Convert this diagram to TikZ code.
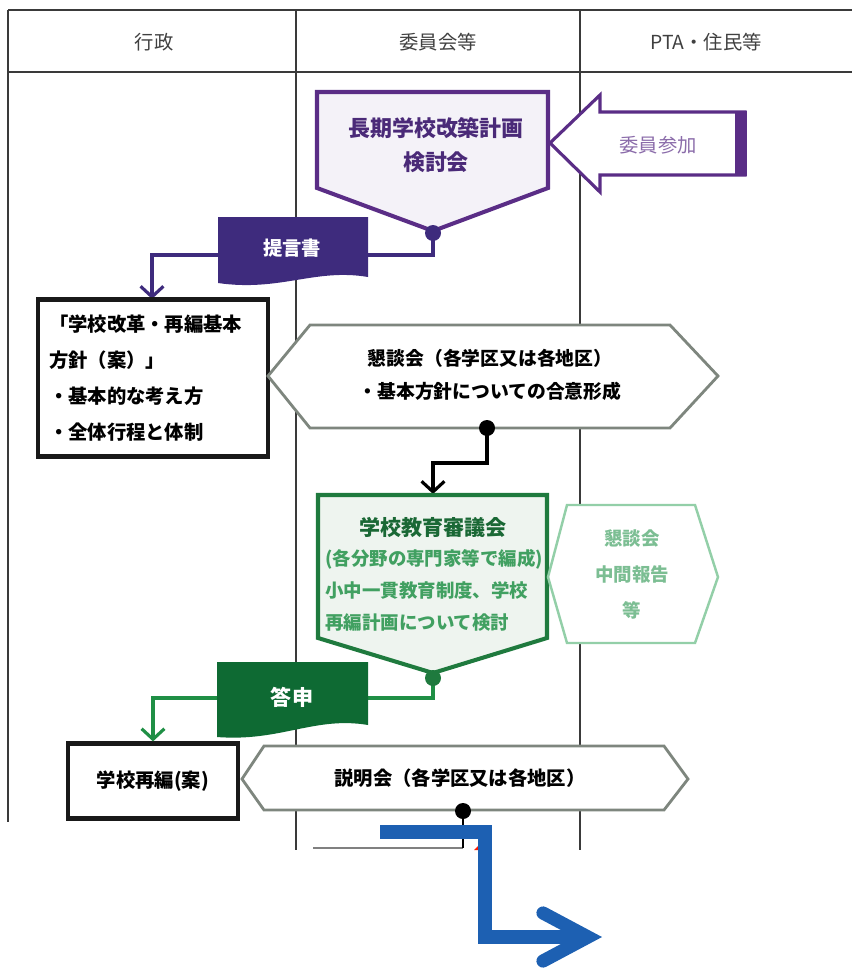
\documentclass[tikz,border=0pt]{standalone}
\usepackage{fontspec}
\setmainfont{Noto Sans CJK JP}
\usepackage{tikz}
\usetikzlibrary{arrows.meta}

\definecolor{lanegray}{HTML}{3A3A3A}
\definecolor{purp}{HTML}{5A2D86}
\definecolor{purpdark}{HTML}{3E2B7D}
\definecolor{purptext}{HTML}{4A2A78}
\definecolor{purplight}{HTML}{F4F2F8}
\definecolor{grn}{HTML}{1F7A3E}
\definecolor{grndark}{HTML}{0E6A33}
\definecolor{grnline}{HTML}{1F8F45}
\definecolor{grnlight}{HTML}{EEF4EF}
\definecolor{grnpale}{HTML}{93CFA8}
\definecolor{hexgray}{HTML}{7E867E}
\definecolor{blu}{HTML}{1D60B2}

\begin{document}
\begin{tikzpicture}[x=0.02cm, y=-0.02cm, >={Straight Barb[length=6pt,width=13pt]},
  lane/.style={draw=lanegray, line width=1.1pt},
  head/.style={text=black!75, font=\fontsize{11}{13}\selectfont},
  ppent/.style={draw=purp, fill=purplight, line width=2.3pt, line join=miter},
  pline/.style={draw=purpdark, line width=1.8pt},
  kbox/.style={draw=black!90, fill=white, line width=2.4pt, inner sep=0pt},
  hexa/.style={draw=hexgray, fill=white, line width=1.6pt},
  btext/.style={font=\bfseries\fontsize{10.7}{19}\selectfont},
  gpent/.style={draw=grn, fill=grnlight, line width=2.3pt, line join=miter},
  gline/.style={draw=grnline, line width=1.8pt},
  lhexa/.style={draw=grnpale, fill=white, line width=1.4pt},
  barrow/.style={draw=blu, line width=7.5pt}]
\useasboundingbox (0,0) rectangle (852,970);

\draw [lane] (8,10) -- (852,10);
\draw [lane] (8,72) -- (852,72);
\draw [lane] (8,10) -- (8,822);
\draw [lane] (296,10) -- (296,850);
\draw [lane] (580,10) -- (580,850);
\node (gyousei) at (154,42) [head] {行政};
\node (iinkai) at (438,42) [head] {委員会等};
\node (pta) at (706,42) [head] {PTA・住民等};

\draw [draw=purp, fill=white, line width=1.8pt, line join=miter]
  (550,143) -- (600,95) -- (600,112) -- (745,112) -- (745,175) -- (600,175) -- (600,192) -- cycle;
\fill [purp] (735,111) rectangle (747,176);
\node (sanka) at (658,145) [text=purp!70, font=\fontsize{11}{13}\selectfont] {委員参加};

\draw [ppent] (317,92) -- (548,92) -- (548,188) -- (433,231) -- (317,188) -- cycle;
\node (kentou) at (436,145) [align=center, text=purptext, font=\bfseries\fontsize{12.5}{19.5}\selectfont] {長期学校改築計画\\検討会};
\coordinate (kdot) at (433,233);
\coordinate (teigenline) at (292,255);
\draw [pline, ->] (kdot) |- (teigenline) -| (152,299);
\fill [purpdark] (kdot) circle [radius=8];
\fill [purpdark] (218,217) -- (368,217) -- (368,277) .. controls (315,268) and (280,292) .. (218,283) -- cycle;
\node (teigen) at (292,248) [text=white, font=\bfseries\fontsize{11}{13}\selectfont] {提言書};

\node (kihon) at (153,378) [kbox, minimum width=4.6cm, minimum height=3.14cm, text width=4.16cm, align=left, btext, font=\bfseries\fontsize{11}{20.5}\selectfont]
  {「学校改革・再編基本\\方針（案）」\\・基本的な考え方\\・全体行程と体制};

\draw [hexa] (268,376) -- (310,325) -- (670,325) -- (718,376) -- (670,428) -- (310,428) -- cycle;
\node (kondan) at (490,375) [align=center, btext] {懇談会（各学区又は各地区）\\・基本方針についての合意形成};
\coordinate (sdot) at (487,428);
\coordinate (sbend) at (433,463);
\coordinate (gtop) at (433,494);
\draw [line width=1.8pt, ->] (sdot) |- (sbend) -- (gtop);
\fill (sdot) circle [radius=8];

\draw [gpent] (318,495) -- (547,495) -- (547,638) -- (433,673) -- (318,638) -- cycle;
\node (shingi) at (433,527) [text=grn!85!black, font=\bfseries\fontsize{12}{14}\selectfont] {学校教育審議会};
\node (shingibody) at (325,590) [anchor=west, align=left, inner sep=0pt, text=grnline!85!white, font=\bfseries\fontsize{10.5}{18.2}\selectfont]
  {(各分野の専門家等で編成)\\小中一貫教育制度、学校\\再編計画について検討};

\draw [lhexa] (548,577) -- (567,505) -- (695,505) -- (718,577) -- (695,643) -- (567,643) -- cycle;
\node (chukan) at (632,574) [align=center, text=grnpale!80!grn, font=\bfseries\fontsize{10.5}{20.5}\selectfont] {懇談会\\中間報告\\等};

\coordinate (gdot) at (433,678);
\coordinate (toushinline) at (292,698);
\node (saihen) at (153,781) [kbox, minimum width=3.4cm, minimum height=1.5cm, font=\bfseries\fontsize{11}{13}\selectfont] {学校再編(案)};
\draw [gline, ->] (gdot) |- (toushinline) -| (saihen.north);
\fill [grn] (gdot) circle [radius=8];
\fill [grndark] (217,662) -- (368,662) -- (368,725) .. controls (315,716) and (280,742) .. (217,737) -- cycle;
\node (toushin) at (292,697) [text=white, font=\bfseries\fontsize{12}{14}\selectfont] {答申};

\draw [hexa] (242,779) -- (264,746) -- (664,746) -- (688,779) -- (664,810) -- (264,810) -- cycle;
\node (setsumei) at (460,778) [font=\bfseries\fontsize{11}{13}\selectfont] {説明会（各学区又は各地区）};
\coordinate (mdot) at (463,811);
\coordinate (mend) at (463,848);
\draw [draw=gray, line width=1.1pt] (313,848) -- (mend);
\draw [line width=1.2pt] (mdot) -- (mend);
\fill (mdot) circle [radius=8];
\fill [red!80!orange] (474,850) -- (481,843) -- (481,850) -- cycle;

\coordinate (bstart) at (380,832);
\coordinate (bcorner) at (485,937);
\coordinate (btip) at (588,937);
\draw [barrow, line join=miter] (bstart) -| (bcorner) -- (btip);
\draw [barrow, line join=miter, line cap=round] (543,913) -- (btip) -- (543,961);
\end{tikzpicture}
\end{document}
